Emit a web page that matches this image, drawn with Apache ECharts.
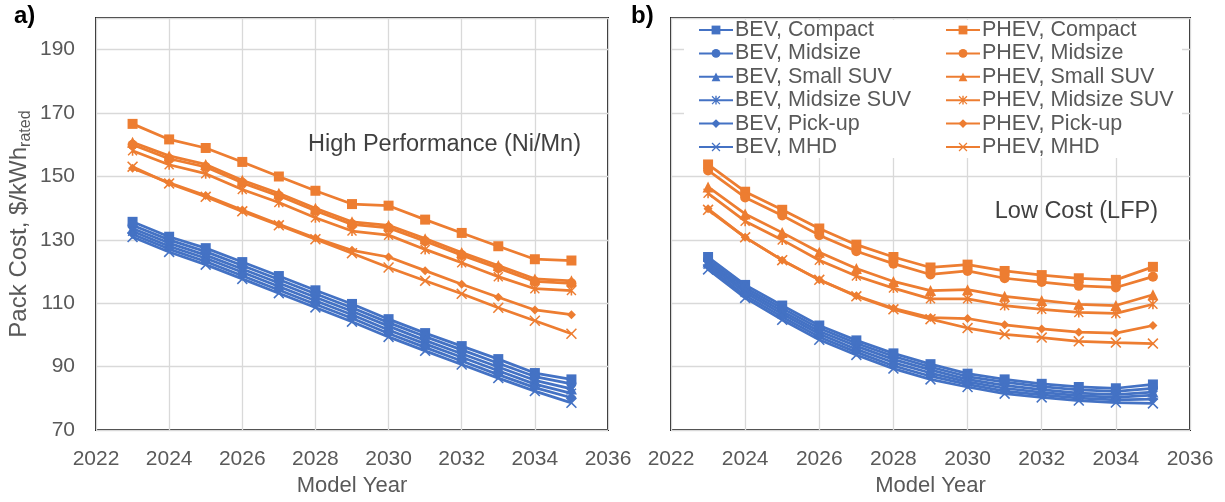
<!DOCTYPE html>
<html>
<head>
<meta charset="utf-8">
<script src="https://cdn.jsdelivr.net/npm/echarts@6/dist/echarts.min.js"></script>
<style>html,body{margin:0;padding:0;background:#fff}#c{width:1225px;height:502px}</style>
</head>
<body>
<div id="c"></div>
<script>
// ---------- data ----------
const years = [2023,2024,2025,2026,2027,2028,2029,2030,2031,2032,2033,2034,2035];
const xTicks = [2022,2024,2026,2028,2030,2032,2034,2036];
const yTicks = [70,90,110,130,150,170,190];
const vehicles = ['Compact','Midsize','Small SUV','Midsize SUV','Pick-up','MHD'];

// a) High Performance (Ni/Mn)
const hpBevCompact    = [135.7,131.0,127.4,123.0,118.6,114.1,109.8,105.0,100.6,96.5,92.4,88.0,86.0];
const hpBevMidsize    = [134.6,130.0,126.3,121.9,117.5,113.0,108.6,103.9,99.5,95.3,91.1,86.9,84.6];
const hpBevSmallSUV   = [133.6,129.0,125.2,120.8,116.4,111.9,107.5,102.8,98.3,94.1,89.9,85.7,83.0];
const hpBevMidsizeSUV = [132.7,128.0,124.2,119.8,115.3,110.8,106.4,101.6,97.2,93.0,88.7,84.5,81.6];
const hpBevPickup     = [131.8,127.1,123.2,118.7,114.2,109.7,105.3,100.5,96.1,91.8,87.5,83.4,80.2];
const hpBevMHD        = [130.9,126.2,122.2,117.7,113.2,108.7,104.2,99.4,95.0,90.7,86.4,82.3,78.6];
const hpPhevCompact    = [166.6,161.7,159.0,154.6,150.0,145.5,141.3,140.8,136.4,132.2,128.0,123.9,123.5];
const hpPhevMidsize    = [160.0,155.6,153.0,148.0,143.9,139.2,134.9,133.8,129.6,125.2,121.1,116.9,116.3];
const hpPhevSmallSUV   = [160.8,156.5,153.8,148.8,144.7,140.0,135.7,134.6,130.4,126.0,121.9,117.7,117.1];
const hpPhevMidsizeSUV = [158.1,153.7,150.9,145.9,141.8,137.0,132.8,131.5,127.0,122.8,118.4,114.6,114.0];
const hpPhevPickup     = [152.6,148.0,144.0,139.4,134.9,130.6,126.7,124.6,120.3,116.0,111.9,107.9,106.4];
const hpPhevMHD        = [153.1,147.8,143.6,139.0,134.6,130.2,125.8,121.3,117.1,113.0,108.6,104.5,100.4];

// b) Low Cost (LFP)
const lcBevCompact    = [124.6,115.8,109.3,103.0,98.3,94.2,90.8,87.8,86.0,84.6,83.6,83.2,84.4];
const lcBevMidsize    = [123.8,115.0,108.4,102.1,97.4,93.3,89.9,86.9,85.1,83.7,82.7,82.2,83.2];
const lcBevSmallSUV   = [123.0,114.2,107.5,101.2,96.5,92.3,89.0,86.0,84.1,82.8,81.7,81.2,82.0];
const lcBevMidsizeSUV = [122.3,113.4,106.6,100.3,95.5,91.3,88.0,85.2,83.2,81.9,80.9,80.3,81.0];
const lcBevPickup     = [121.5,112.5,105.7,99.4,94.6,90.3,87.0,84.4,82.3,81.1,80.1,79.5,79.8];
const lcBevMHD        = [120.7,111.7,104.8,98.5,93.7,89.4,86.0,83.6,81.5,80.3,79.3,78.7,78.4];
const lcPhevCompact    = [153.8,145.2,139.5,133.6,128.5,124.6,121.3,122.2,120.2,118.9,117.9,117.4,121.5];
const lcPhevMidsize    = [151.9,143.4,137.7,131.5,126.4,122.5,119.1,120.2,117.9,116.7,115.5,115.0,118.4];
const lcPhevSmallSUV   = [146.7,138.2,132.3,126.1,121.0,116.9,114.0,114.3,112.2,110.9,109.7,109.3,112.7];
const lcPhevMidsizeSUV = [144.7,135.9,130.0,123.6,118.6,114.8,111.4,111.4,109.3,108.1,107.1,106.8,109.7];
const lcPhevPickup     = [139.8,130.8,123.6,117.4,112.4,108.4,105.5,105.2,103.2,101.9,100.9,100.6,103.0];
const lcPhevMHD        = [139.5,130.8,123.6,117.4,112.2,108.1,105.0,102.2,100.2,99.2,98.0,97.6,97.3];

const titleA = 'High Performance (Ni/Mn)';
const titleB = 'Low Cost (LFP)';

// ---------- styling ----------
const BLUE = '#4472C4', ORANGE = '#ED7D31';
const FONT = 'Liberation Sans, Arial, sans-serif';
const GREY = '#595959';
const X_PATH = 'path://M1,0 L5,4 L9,0 L10,1 L6,5 L10,9 L9,10 L5,6 L1,10 L0,9 L4,5 L0,1 Z';
const STAR_PATH = 'path://M1,0 L5,4 L9,0 L10,1 L6,5 L10,9 L9,10 L5,6 L1,10 L0,9 L4,5 L0,1 Z M4.2,0 L5.8,0 L5.8,10 L4.2,10 Z';
const symbols = [
  {symbol:'rect', size:10},
  {symbol:'circle', size:10},
  {symbol:'triangle', size:11},
  {symbol:STAR_PATH, size:10},
  {symbol:'diamond', size:9},
  {symbol:X_PATH, size:11}
];

const hpBev  = [hpBevCompact,hpBevMidsize,hpBevSmallSUV,hpBevMidsizeSUV,hpBevPickup,hpBevMHD];
const hpPhev = [hpPhevCompact,hpPhevMidsize,hpPhevSmallSUV,hpPhevMidsizeSUV,hpPhevPickup,hpPhevMHD];
const lcBev  = [lcBevCompact,lcBevMidsize,lcBevSmallSUV,lcBevMidsizeSUV,lcBevPickup,lcBevMHD];
const lcPhev = [lcPhevCompact,lcPhevMidsize,lcPhevSmallSUV,lcPhevMidsizeSUV,lcPhevPickup,lcPhevMHD];

function mk(name, arr, color, sym, idx) {
  return {
    name: name, type: 'line', xAxisIndex: idx, yAxisIndex: idx,
    data: years.map((y,i) => [y, arr[i]]),
    symbol: sym.symbol, symbolSize: sym.size, showAllSymbol: true,
    lineStyle: {color: color, width: 2.75},
    itemStyle: {color: color, borderWidth: 0},
    animation: false, silent: true
  };
}
const series = [];
[[hpBev,hpPhev,0],[lcBev,lcPhev,1]].forEach(([bev,phev,idx]) => {
  phev.forEach((a,i) => series.push(mk('PHEV, ' + vehicles[i], a, ORANGE, symbols[i], idx)));
  bev.forEach((a,i) => series.push(mk('BEV, ' + vehicles[i], a, BLUE, symbols[i], idx)));
});

const grids = [
  {left: 96, top: 18, width: 512, height: 419},
  {left: 671, top: 18, width: 519, height: 419}
];
function xAxis(i) {
  return {
    type: 'value', gridIndex: i, min: xTicks[0], max: xTicks[xTicks.length-1], interval: 2,
    name: 'Model Year', nameLocation: 'middle', nameGap: 43,
    nameTextStyle: {color: GREY, fontSize: 22, fontFamily: FONT},
    axisLine: {show: false}, axisTick: {show: false},
    axisLabel: {color: GREY, fontSize: 21, fontFamily: FONT, margin: 19, formatter: v => String(v)},
    splitLine: {show: true, lineStyle: {color: '#D9D9D9', width: 1.3}}
  };
}
function yAxis(i) {
  const ax = {
    type: 'value', gridIndex: i, min: yTicks[0], max: 200, interval: 20,
    axisLine: {show: false}, axisTick: {show: false},
    axisLabel: {show: i === 0, color: GREY, fontSize: 21, fontFamily: FONT, margin: 21, showMaxLabel: false},
    splitLine: {show: true, lineStyle: {color: '#D9D9D9', width: 1.3}}
  };
  if (i === 0) {
    ax.name = '{a|Pack Cost, $/kWh}{b|rated}';
    ax.nameLocation = 'middle';
    ax.nameGap = 62;
    ax.nameRotate = 90;
    ax.nameTextStyle = {
      color: GREY, fontFamily: FONT,
      rich: {
        a: {fontSize: 24, lineHeight: 30, color: GREY, fontFamily: FONT},
        b: {fontSize: 16, lineHeight: 16, verticalAlign: 'bottom', color: GREY, fontFamily: FONT}
      }
    };
  }
  return ax;
}
const legendCommon = {
  orient: 'vertical', itemWidth: 34, itemHeight: 11, itemGap: 1.4,
  textStyle: {color: GREY, fontSize: 21.5, fontFamily: FONT, lineHeight: 21, padding: [0,0,0,-3]},
  selectedMode: false, padding: 0
};

const chart = echarts.init(document.getElementById('c'), null, {renderer: 'canvas'});
chart.setOption({
  backgroundColor: '#fff',
  animation: false,
  grid: grids.map(g => Object.assign({show: true, borderColor: '#262626', borderWidth: 2, backgroundColor: 'transparent'}, g)),
  xAxis: [xAxis(0), xAxis(1)],
  yAxis: [yAxis(0), yAxis(1)],
  legend: [
    Object.assign({left: 698, top: 19, data: vehicles.map(v => 'BEV, ' + v)}, legendCommon),
    Object.assign({left: 945, top: 19, data: vehicles.map(v => 'PHEV, ' + v)}, legendCommon)
  ],
  graphic: [
    {type: 'rect', z: 1, shape: {x: 684, y: 20, width: 498, height: 138}, style: {fill: '#fff'}},
    {type: 'text', left: 14, top: 4, style: {text: 'a)', font: 'bold 24px ' + FONT, fill: '#000'}},
    {type: 'text', left: 631, top: 4, style: {text: 'b)', font: 'bold 24px ' + FONT, fill: '#000'}},
    {type: 'text', z: 5, style: {x: 581, y: 145, text: titleA, font: '23.5px ' + FONT, fill: '#404040', textAlign: 'right', textVerticalAlign: 'middle'}},
    {type: 'text', z: 5, style: {x: 1158, y: 212, text: titleB, font: '23.5px ' + FONT, fill: '#404040', textAlign: 'right', textVerticalAlign: 'middle'}}
  ],
  series: series
});
</script>
</body>
</html>
